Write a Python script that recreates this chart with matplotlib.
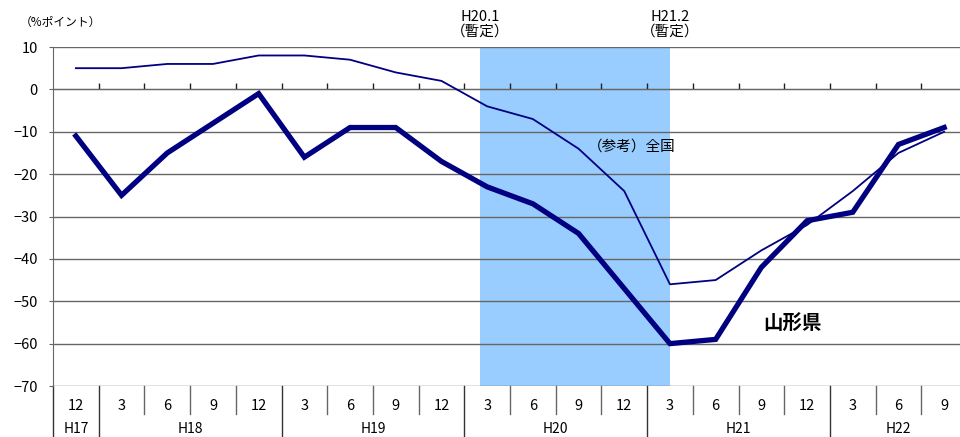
import matplotlib
matplotlib.use("Agg")
import matplotlib.pyplot as plt

plt.rcParams['font.family'] = ['Noto Sans CJK JP', 'DejaVu Sans']

# quarter labels and fiscal-year groups
months = ['12', '3', '6', '9', '12', '3', '6', '9', '12', '3', '6', '9', '12',
          '3', '6', '9', '12', '3', '6', '9']
years = ['H17', 'H18', 'H19', 'H20', 'H21', 'H22']
year_spans = [(0, 0), (1, 4), (5, 8), (9, 12), (13, 16), (17, 19)]

# DI values (% points)
yamagata = [-11, -25, -15, -8, -1, -16, -9, -9, -17, -23, -27, -34, -47,
            -60, -59, -42, -31, -29, -13, -9]
zenkoku = [5, 5, 6, 6, 8, 8, 7, 4, 2, -4, -7, -14, -24,
           -46, -45, -38, -32, -24, -15, -10]

# provisional period H20.1 - H21.2
band = (8.84, 13.0)

x = list(range(len(months)))
navy = '#000080'
grid_c = '#666666'

fig = plt.figure(figsize=(9.6, 4.37), dpi=100)
ax = fig.add_axes([53 / 960, 51 / 437, 914 / 960, 339 / 437])

ax.set_xlim(-0.5, 19.5)
ax.set_ylim(-70, 10)

ax.axvspan(band[0], band[1], color='#99ccff', zorder=0, lw=0)

for v in range(-70, 11, 10):
    ax.axhline(v, color=grid_c, lw=1.0, zorder=1)

ax.plot(x, zenkoku, color=navy, lw=1.3, zorder=3)
ax.plot(x, yamagata, color=navy, lw=3.8, zorder=4, solid_joinstyle='miter')

# axes styling: x axis sits on the zero line, ticks pointing up
for s in ['top', 'right']:
    ax.spines[s].set_visible(False)
ax.spines['bottom'].set_position(('data', 0))
ax.spines['bottom'].set_color(grid_c)
ax.spines['left'].set_color(grid_c)
ax.set_xticks([i + 0.5 for i in range(19)])
ax.set_xticklabels([])
ax.tick_params(axis='x', direction='in', length=4, color='#222222', width=1)
ax.set_yticks(range(-70, 11, 10))
ax.set_yticklabels([str(v) if v >= 0 else '\u2212' + str(-v) for v in range(-70, 11, 10)],
                   fontsize=10.5)
ax.tick_params(axis='y', length=3, color=grid_c, pad=8)

# category table under the plot
year_edges = [-0.5] + [s[1] + 0.5 for s in year_spans[:-1]]
for i in range(len(months)):
    ax.text(i, -74.8, months[i], ha='center', va='center', fontsize=10.5,
            clip_on=False)
    edge = i + 0.5
    if edge not in year_edges and i < len(months) - 1:
        ax.plot([edge, edge], [-70, -76.6], color=grid_c, lw=1, clip_on=False)
for e in year_edges:
    ax.plot([e, e], [-70, -83], color='#333333', lw=1, clip_on=False)
for name, (a, b) in zip(years, year_spans):
    ax.text((a + b) / 2, -80.2, name, ha='center', va='center', fontsize=10,
            clip_on=False)

# annotations
fig.text(20 / 960, 1 - 22 / 437, '（%ポイント）', fontsize=8.5, ha='left', va='center')
ax.text(band[0], 12.0, 'H20.1\n（暫定）', ha='center', va='bottom', fontsize=10.5,
        linespacing=1.05, clip_on=False)
ax.text(band[1], 12.0, 'H21.2\n（暫定）', ha='center', va='bottom', fontsize=10.5,
        linespacing=1.05, clip_on=False)
ax.text(11.2, -13.6, '（参考）全国', ha='left', va='center', fontsize=10.5)
ax.text(15.05, -55.5, '山形県', ha='left', va='center', fontsize=14, fontweight='bold')

fig.savefig('out.png', dpi=100)
